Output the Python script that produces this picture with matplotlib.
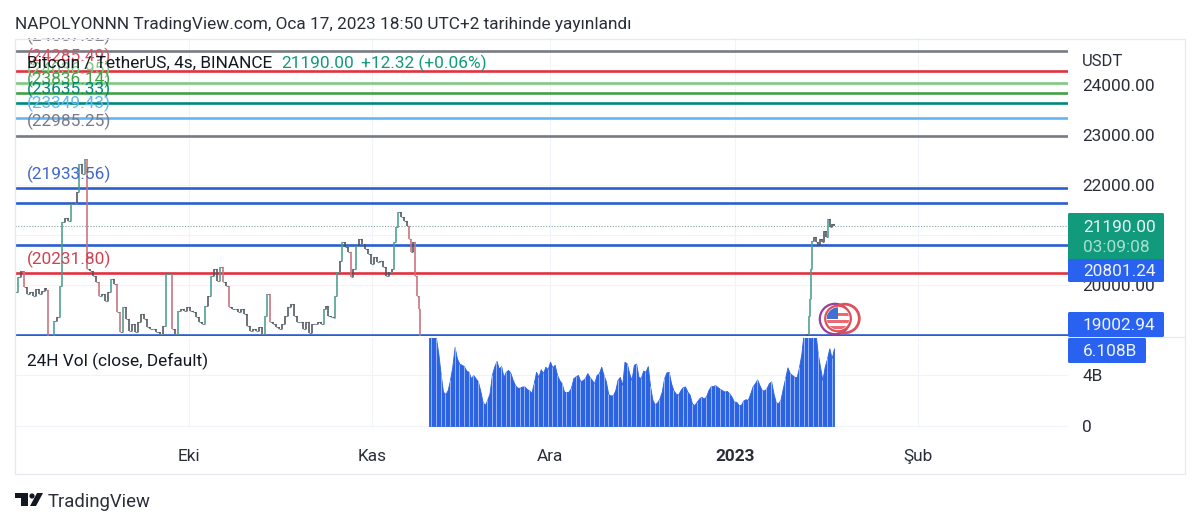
import numpy as np
import matplotlib
matplotlib.use("Agg")
import matplotlib.pyplot as plt
from matplotlib.collections import LineCollection
from matplotlib.patches import Rectangle, Circle, Polygon, FancyBboxPatch

plt.rcParams['font.family'] = ['Roboto', 'DejaVu Sans']

# ---------- data ----------
price_bars = [15,18,21,24,27,30,33,36,39,42,45,46,48,51,54,57,60,62,65,68,71,74,77,79,82,85,87,90,93,96,99,102,105,108,111,114,117,
    120,123,126,129,132,135,138,141,144,147,150,153,156,160,163,166,169,172,175,178,181,184,187,190,193,196,199,202,205,208,211,214,217,
    220,223,226,229,232,235,238,241,244,247,250,253,256,259,262,265,267,270,273,276,279,282,285,288,291,294,297,300,303,306,309,312,315,
    318,321,324,326,328,331,334,335,337,340,342,345,348,351,353,356,359,362,365,368,371,374,377,380,383,386,389,392,394,396,398,401,404,
    407,409,411,413,415,417,419,420,806,807,809,810,811,812,814,816,818,820,822,824,826,828,830,832,834]
price_close = [19853,20153,20287,19953,19820,19853,19787,19920,19820,19887,19933,19900,18900,18950,19287,19353,19987,21253,21333,21287,21620,21640,21853,22420,22220,22520,20320,20287,20187,20053,19787,19820,19687,19853,20120,20020,19453,
    19053,19553,19320,19087,19220,19053,19253,19420,19320,19153,19120,19120,19053,19020,19187,20220,20220,19120,19020,19487,19520,19487,19553,19487,19453,19353,19253,19220,19587,19787,20187,20320,20087,
    20353,20053,19987,19553,19520,19520,19453,19520,19420,19187,19087,19120,19087,19153,19020,19387,19820,19253,19220,19153,19120,19220,19387,19553,19620,19387,19253,19253,19120,19253,19050,19220,19220,
    19253,19220,19520,19587,19387,19353,19333,19787,20253,20487,20853,20753,20653,20153,20320,20787,20920,20820,20720,20620,20420,20553,20453,20487,20353,20187,20253,20320,20853,21153,21453,21353,21287,
    21187,20920,20653,20853,20187,19787,19520,18900,18900,19020,19387,19720,20320,20887,20953,20853,20787,20920,20853,21087,20953,21320,21153,21220,21190]

level_prices = [24687.02,24285.49,24036.95,23836.14,23635.33,23349.43,22985.25,21933.56,21633.00,20801.24,20231.80,19002.94]
level_colors = ['#787b86','#e0323f','#81c784','#43a047','#00897b','#64b5f6','#787b86','#2b5fd0','#2b5fd0','#2b5fd0','#e0323f','#2b5fd0']
level_labels = ['(24687.02)','(24285.49)','(24036.95)','(23836.14)','(23635.33)','(23349.43)','(22985.25)','(21933.56)',None,None,'(20231.80)',None]
label_colors = ['#787b86','#e0505c','#81c784','#43a047','#00897b','#64b5f6','#787b86','#3f68c8',None,None,'#d0404f',None]

volume_b = [7.4,7.4,7.4,6.9,5.7,4.1,2.7,2.5,2.8,3.6,4.65,6.2,5.3,4.9,4.8,4.7,4.35,4.25,3.75,4.0,3.75,3.5,2.8,1.9,1.65,2.05,2.55,4.0,4.65,5.1,4.5,4.7,3.85,4.25,4.4,4.15,3.6,3.2,3.0,3.0,3.1,3.1,2.9,2.8,2.6,3.35,4.25,3.85,4.45,4.15,4.65,4.45,5.05,4.6,4.8,4.0,3.6,3.35,2.7,2.65,2.7,3.0,3.75,3.9,4.0,3.5,3.6,3.75,4.15,3.85,3.6,3.35,4.0,4.15,4.65,4.0,3.5,2.5,2.4,2.4,2.8,3.6,3.85,3.2,5.05,4.9,4.15,3.6,4.8,4.9,3.85,
    3.75,4.35,4.25,4.7,3.1,2.05,1.7,1.85,2.15,2.7,3.75,4.2,4.25,3.35,2.8,2.55,2.45,2.8,3.05,3.1,2.7,2.45,1.75,1.65,1.9,2.15,2.3,2.15,2.3,2.8,3.1,3.15,3.2,3.05,2.9,2.8,2.7,2.75,2.55,2.3,1.9,1.9,1.65,1.65,2.0,2.1,2.05,2.55,3.1,3.35,3.65,3.2,2.8,2.8,2.95,3.35,3.5,2.55,1.85,1.8,2.05,2.95,3.75,4.6,4.15,4.0,3.85,3.85,4.65,5.7,7.4,7.4,7.4,6.75,7.4,7.4,5.7,4.65,3.6,4.65,5.3,6.1,5.3,6.1]

time_ticks = [189,372,550,735,918]
time_labels = ['Eki','Kas','Ara','2023','Şub']
price_ticks = [20000,21000,22000,23000,24000]
price_tick_labels = ['20000.00','21000.00','22000.00','23000.00','24000.00']
vol_ticks = [0,4]
vol_tick_labels = ['0','4B']

W, H = 1200, 525
TXT = '#2a2e39'
GRID = '#f0f3fa'
BORDER = '#e6e8ee'
L, R = 15, 1068
FS = 12.4

fig = plt.figure(figsize=(W/100, H/100), dpi=100, facecolor='white')

def px_axes(x0, y0, x1, y1, **kw):
    return fig.add_axes([x0/W, 1-y1/H, (x1-x0)/W, (y1-y0)/H], **kw)

def style(ax):
    for s in ax.spines.values():
        s.set_visible(False)
    ax.set_xlim(L, R)
    ax.set_xticks(time_ticks)
    ax.tick_params(length=0)
    ax.grid(True, color=GRID, lw=0.8)
    ax.set_axisbelow(True)
    ax.patch.set_alpha(0)

# ---------- price pane ----------
ax = px_axes(L, 38, R, 336)
style(ax)
ax.set_ylim(18980, 24940)
ax.yaxis.tick_right()
ax.set_yticks(price_ticks)
ax.set_yticklabels(price_tick_labels, fontsize=FS, color=TXT)
ax.tick_params(axis='y', pad=10.2)
ax.tick_params(axis='x', labelbottom=False)

ax.axhline(price_close[-1], color='#7fa8a0', lw=0.8, ls=(0, (1, 1.5)), zorder=1)
for p, c in zip(level_prices, level_colors):
    ax.axhline(p, color=c, lw=1.9, zorder=2, solid_capstyle='butt')

vsegs, vcols, hsegs = [], [], []
for i in range(1, len(price_bars)):
    a, b = price_close[i-1], price_close[i]
    x0, x1 = price_bars[i-1], price_bars[i]
    if x1 - x0 < 100:
        hsegs.append([(x0, a), (x1, a)])
    vsegs.append([(x1, a), (x1, b)])
    vcols.append('#4a9c8c' if b > a else '#c9707c')
    if abs(b - a) < 250:
        vcols[-1] = '#4d525e'
ax.add_collection(LineCollection(hsegs, colors='#6f8a88', linewidths=0.8, zorder=3))
ax.add_collection(LineCollection(vsegs, colors=vcols, linewidths=1.15, zorder=3))

for p, t_, c in zip(level_prices, level_labels, label_colors):
    if t_:
        a = ax.annotate(t_, xy=(27, p), xytext=(0, 14), textcoords='offset pixels',
                        fontsize=FS, color=c, va='center', ha='left',
                        annotation_clip=False, zorder=4)
        a.set_clip_on(True)
        a.set_clip_box(ax.bbox)

# ---------- volume pane ----------
vx = px_axes(L, 338, R, 428)
style(vx)
vx.set_ylim(-2/12.75, 88/12.75)
vx.yaxis.tick_right()
vx.set_yticks(vol_ticks)
vx.set_yticklabels(vol_tick_labels, fontsize=FS, color=TXT)
vx.tick_params(axis='y', pad=10.2)
vx.tick_params(axis='x', labelbottom=False)
n = len(volume_b)
vbars = np.linspace(429, 834, n)
vx.fill_between(vbars, 0, volume_b, color='#2b63e3', lw=0.6, zorder=2)
vx.vlines(vbars[1::2], 0, np.array(volume_b)[1::2], color='#a9c2f5', lw=0.6, zorder=3)

# ---------- time axis ----------
tx = px_axes(L, 428, R, 474)
for s in tx.spines.values():
    s.set_visible(False)
tx.set_xlim(L, R)
tx.set_yticks([])
tx.set_xticks(time_ticks)
tx.set_xticklabels(time_labels, fontsize=FS, color=TXT)
tx.tick_params(length=0, pad=-18)
tx.get_xticklabels()[3].set_fontweight('bold')
tx.grid(False)

# ---------- overlay in pixel coordinates ----------
ov = fig.add_axes([0, 0, 1, 1], zorder=10)
ov.set_xlim(0, W)
ov.set_ylim(H, 0)
ov.axis('off')
ov.patch.set_alpha(0)

ov.add_patch(Rectangle((15, 39), 1170, 435, fill=False, ec=BORDER, lw=0.9))
ov.plot([1068, 1185], [337, 337], color=BORDER, lw=0.9)

def box(x0, y0, x1, y1, c):
    ov.add_patch(FancyBboxPatch((x0+1, y0+1), x1-x0-2, y1-y0-2,
                 boxstyle='round,pad=1,rounding_size=1.5', fc=c, ec='none', zorder=5))

box(1068, 213, 1164, 262, '#129a7d')
box(1068, 259, 1164, 282, '#2962f0')
box(1068, 312, 1164, 337, '#2962f0')
box(1068, 338, 1146, 363, '#2962f0')

def t(x, y, s, size=FS, color=TXT, **kw):
    ov.text(x, y, s, fontsize=size, color=color, va='center', ha='left', zorder=6, **kw)

t(1083, 227, '21190.00', color='#e8f6f2')
t(1083, 247, '03:09:08', color='#a8e0d0')
t(1083, 271, '20801.24', color='#eef3ff')
t(1083, 326, '19002.94', color='#eef3ff')
t(1083, 352, '6.108B', color='#eef3ff')
t(1082, 61, 'USDT', size=12)

t(15, 24, 'NAPOLYONNN TradingView.com, Oca 17, 2023 18:50 UTC+2 tarihinde yayınlandı', size=12.45)
t(27, 63, 'Bitcoin / TetherUS, 4s, BINANCE', color='#131722')
t(281, 63, '21190.00', color='#129a7d')
t(361, 63, '+12.32 (+0.06%)', color='#129a7d')
t(27, 361, '24H Vol (close, Default)', color='#131722')

# logo
LOGO = '#131722'
ov.add_patch(Polygon([(15, 493), (28, 493), (28, 506), (21, 506), (21, 498), (15, 498)], fc=LOGO, ec='none'))
ov.add_patch(Circle((32, 496), 2.6, fc=LOGO, ec='none'))
ov.add_patch(Polygon([(37, 493), (43, 493), (36, 506), (30, 506)], fc=LOGO, ec='none'))
t(48, 502, 'TradingView', size=13.3, color='#2a2e39')

# flag icon
ov.add_patch(Circle((835, 319), 15.2, fc='white', ec='#9a3f98', lw=1.6, zorder=7))
ov.add_patch(Circle((845, 318.5), 14.3, fc='none', ec='#e0505c', lw=2.0, zorder=7))
ov.add_patch(Circle((838, 318.5), 12.8, fc='white', ec='#e0505c', lw=1.6, zorder=7))
clip = Circle((838, 318.5), 11.2, transform=ov.transData)
for yy in (313, 319.5, 326):
    r = Rectangle((826, yy), 24, 3.2, fc='#ea6a70', ec='none', zorder=8)
    ov.add_patch(r)
    r.set_clip_path(clip)
can = Rectangle((826, 307), 12, 11.5, fc='#3f72d0', ec='none', zorder=9)
ov.add_patch(can)
can.set_clip_path(clip)

fig.savefig('out.png', dpi=100, facecolor='white')
